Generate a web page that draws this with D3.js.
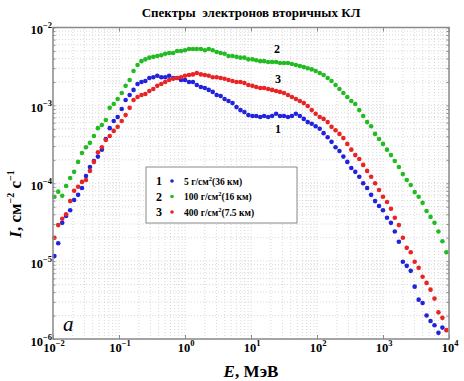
<!DOCTYPE html>
<html>
<head>
<meta charset="utf-8">
<title></title>
<style>
  body { margin: 0; background: #fff; }
  svg text { font-family: "Liberation Serif", "Times New Roman", serif; }
</style>
</head>
<body>
<div id="chart"></div>
<script src="https://d3js.org/d3.v7.min.js"></script>
<script>
// energy bins, MeV
const energy = [
  0.0105, 0.0120, 0.0138, 0.0158, 0.0182, 0.0209, 0.0240, 0.0275, 0.0316, 0.0363,
  0.0417, 0.0479, 0.0550, 0.0631, 0.0724, 0.0832, 0.0955, 0.110, 0.126, 0.145,
  0.166, 0.191, 0.219, 0.251, 0.288, 0.331, 0.380, 0.437, 0.501, 0.575,
  0.661, 0.759, 0.871, 1.00, 1.15, 1.32, 1.51, 1.74, 2.00, 2.29,
  2.63, 3.02, 3.47, 3.98, 4.57, 5.25, 6.03, 6.92, 7.94, 9.12,
  10.5, 12.0, 13.8, 15.8, 18.2, 20.9, 24.0, 27.5, 31.6, 36.3,
  41.7, 47.9, 55.0, 63.1, 72.4, 83.2, 95.5, 110, 126, 145,
  166, 191, 219, 251, 288, 331, 380, 437, 501, 575,
  661, 759, 871, 1000, 1150, 1320, 1510, 1740, 2000, 2290,
  2630, 3020, 3470, 3980, 4570, 5250, 6030, 6920, 7940, 9120
]

// 1: 5 g/cm2 (36 km)
const flux5 = [
  1.16e-5, 1.7e-5, 3.1e-5, 3.8e-5, 4.5e-5, 6.1e-5, 7.1e-5, 8.7e-5, 1.24e-4, 1.62e-4,
  1.93e-4, 2.2e-4, 2.7e-4, 3.7e-4, 5.1e-4, 6.3e-4, 7.1e-4, 9.0e-4, 1.17e-3, 1.36e-3,
  1.58e-3, 1.88e-3, 2.0e-3, 2.06e-3, 2.25e-3, 2.3e-3, 2.4e-3, 2.3e-3, 2.3e-3, 2.4e-3,
  2.25e-3, 2.25e-3, 2.12e-3, 2.12e-3, 2.0e-3, 2.0e-3, 1.83e-3, 1.72e-3, 1.67e-3, 1.58e-3,
  1.49e-3, 1.36e-3, 1.32e-3, 1.21e-3, 1.14e-3, 1.07e-3, 9.5e-4, 8.7e-4, 8.2e-4, 7.5e-4,
  7.3e-4, 7.3e-4, 7.1e-4, 7.3e-4, 7.1e-4, 7.3e-4, 7.8e-4, 7.3e-4, 7.3e-4, 7.1e-4,
  7.3e-4, 7.8e-4, 7.3e-4, 6.7e-4, 6.1e-4, 5.8e-4, 5.4e-4, 5.0e-4, 4.4e-4, 3.9e-4,
  3.4e-4, 2.9e-4, 2.6e-4, 2.2e-4, 1.88e-4, 1.57e-4, 1.40e-4, 1.21e-4, 1.0e-4, 8.7e-5,
  7.1e-5, 5.9e-5, 5.1e-5, 4.5e-5, 3.6e-5, 3.1e-5, 2.4e-5, 1.77e-5, 9.8e-6, 8.7e-6,
  7.5e-6, 4.7e-6, 3.2e-6, 2.9e-6, 2.0e-6, 1.7e-6, 1.5e-6, 1.2e-6, 1.4e-6, null
]

// 2: 100 g/cm2 (16 km)
const flux100 = [
  6.7e-5, 7.8e-5, 6.9e-5, 9.2e-5, 1.17e-4, 1.40e-4, 1.88e-4, 2.45e-4, 2.9e-4, 3.3e-4,
  4.05e-4, 5.1e-4, 5.6e-4, 6.5e-4, 9.3e-4, 1.04e-3, 1.21e-3, 1.44e-3, 1.78e-3, 2.12e-3,
  2.76e-3, 3.3e-3, 3.7e-3, 3.9e-3, 4.1e-3, 4.2e-3, 4.3e-3, 4.4e-3, 4.6e-3, 4.7e-3,
  4.7e-3, 5.0e-3, 5.0e-3, 5.1e-3, 5.3e-3, 5.3e-3, 5.3e-3, 5.3e-3, 5.1e-3, 5.3e-3,
  5.1e-3, 4.85e-3, 4.7e-3, 4.6e-3, 4.3e-3, 4.3e-3, 4.2e-3, 4.1e-3, 4.1e-3, 3.9e-3,
  3.9e-3, 3.8e-3, 3.7e-3, 3.7e-3, 3.6e-3, 3.6e-3, 3.6e-3, 3.5e-3, 3.5e-3, 3.5e-3,
  3.4e-3, 3.3e-3, 3.2e-3, 3.1e-3, 3.0e-3, 2.9e-3, 2.76e-3, 2.6e-3, 2.46e-3, 2.25e-3,
  2.06e-3, 1.83e-3, 1.62e-3, 1.44e-3, 1.28e-3, 1.14e-3, 1.04e-3, 8.7e-4, 7.3e-4, 6.1e-4,
  5.4e-4, 4.3e-4, 3.7e-4, 3.2e-4, 2.7e-4, 2.3e-4, 1.93e-4, 1.62e-4, 1.31e-4, 1.10e-4,
  9.5e-5, 7.7e-5, 6.7e-5, 5.6e-5, 4.4e-5, 3.7e-5, 3.1e-5, 2.4e-5, 1.8e-5, 1.3e-5
]

// 3: 400 g/cm2 (7.5 km)
const flux400 = [
  2.0e-5, 2.9e-5, 3.5e-5, 4.0e-5, 5.9e-5, 8.0e-5, 9.0e-5, 1.04e-4, 1.10e-4, 1.44e-4,
  1.88e-4, 2.5e-4, 2.9e-4, 3.6e-4, 4.05e-4, 4.7e-4, 5.3e-4, 6.3e-4, 7.5e-4, 9.3e-4,
  1.17e-3, 1.28e-3, 1.36e-3, 1.40e-3, 1.53e-3, 1.62e-3, 1.78e-3, 1.88e-3, 2.0e-3, 2.12e-3,
  2.2e-3, 2.25e-3, 2.3e-3, 2.4e-3, 2.46e-3, 2.5e-3, 2.6e-3, 2.5e-3, 2.46e-3, 2.4e-3,
  2.3e-3, 2.3e-3, 2.25e-3, 2.2e-3, 2.12e-3, 2.06e-3, 2.0e-3, 2.0e-3, 1.94e-3, 1.83e-3,
  1.78e-3, 1.72e-3, 1.67e-3, 1.67e-3, 1.62e-3, 1.58e-3, 1.53e-3, 1.49e-3, 1.44e-3, 1.36e-3,
  1.28e-3, 1.21e-3, 1.14e-3, 1.07e-3, 9.8e-4, 8.7e-4, 7.8e-4, 7.1e-4, 6.7e-4, 6.1e-4,
  5.3e-4, 4.8e-4, 4.3e-4, 3.8e-4, 3.2e-4, 2.7e-4, 2.3e-4, 2.05e-4, 1.72e-4, 1.44e-4,
  1.21e-4, 1.0e-4, 8.2e-5, 6.7e-5, 5.75e-5, 4.7e-5, 3.6e-5, 2.9e-5, 2.0e-5, 1.48e-5,
  1.3e-5, 9.8e-6, 8.2e-6, 6.3e-6, 5.25e-6, 4.3e-6, 3.3e-6, 2.2e-6, 1.87e-6, 1.3e-6
]

const seriesNums = ["1", "2", "3"]
const seriesNames = ["5 г/см", "100 г/см", "400 г/см"]
const seriesAlt = ["(36 км)", "(16 км)", "(7.5 км)"]
const xTickExp = [-2, -1, 0, 1, 2, 3, 4]
const yTickExp = [-6, -5, -4, -3, -2]

const W = 464, H = 381
const margin = { top: 27.5, right: 15, bottom: 42, left: 53 }
const colors = ["#2222dd", "#22bb22", "#e82424"]

const svg = d3.select("#chart").append("svg")
    .attr("width", W).attr("height", H)

const x = d3.scaleLog().domain([1e-2, 1e4]).range([margin.left, W - margin.right])
const y = d3.scaleLog().domain([1e-6, 1e-2]).range([H - margin.bottom, margin.top])

// dotted grid on every decade subdivision
const grid = svg.append("g").attr("stroke", "#cfcfcf").attr("stroke-width", 0.8)
    .attr("stroke-dasharray", "1,2")
grid.selectAll(".gx").data(x.ticks()).join("line")
    .attr("x1", d => x(d)).attr("x2", d => x(d))
    .attr("y1", y.range()[0]).attr("y2", y.range()[1])
grid.selectAll(".gy").data(y.ticks()).join("line")
    .attr("y1", d => y(d)).attr("y2", d => y(d))
    .attr("x1", x.range()[0]).attr("x2", x.range()[1])

// points
const fluxes = [flux5, flux100, flux400]
const order = [1, 0, 2]
order.forEach(i => {
    const pts = energy.map((e, k) => [e, fluxes[i][k]]).filter(p => p[1] != null)
    svg.append("g").attr("fill", colors[i])
        .selectAll("circle").data(pts).join("circle")
        .attr("cx", d => x(d[0])).attr("cy", d => y(d[1])).attr("r", 2.3)
})

// frame
svg.append("rect")
    .attr("x", margin.left).attr("y", margin.top)
    .attr("width", W - margin.left - margin.right)
    .attr("height", H - margin.top - margin.bottom)
    .attr("fill", "none").attr("stroke", "#8a8a8a").attr("stroke-width", 1.5)

// inward ticks on all four sides
function styleAxis(g) {
    g.select(".domain").remove()
    g.selectAll(".tick line").attr("stroke", "#8a8a8a")
}
const xMaj = xTickExp.map(p => Math.pow(10, p))
svg.append("g").attr("transform", `translate(0,${H - margin.bottom})`)
    .call(d3.axisBottom(x).tickValues(xMaj).tickSize(-4).tickFormat("")).call(styleAxis)
svg.append("g").attr("transform", `translate(0,${margin.top})`)
    .call(d3.axisTop(x).tickValues(xMaj).tickSize(-4).tickFormat("")).call(styleAxis)
svg.append("g").attr("transform", `translate(${margin.left},0)`)
    .call(d3.axisLeft(y).tickValues(y.ticks()).tickSize(-2.5).tickFormat("")).call(styleAxis)
svg.append("g").attr("transform", `translate(${W - margin.right},0)`)
    .call(d3.axisRight(y).tickValues(y.ticks()).tickSize(-2.5).tickFormat("")).call(styleAxis)

// tick labels 10^n
function powLabel(sel, p) {
    sel.append("tspan").text("10")
    sel.append("tspan").attr("dy", -6).attr("font-size", 8.5).text(p < 0 ? "\u2212" + (-p) : p)
}
xTickExp.forEach(p => {
    svg.append("text").attr("x", x(Math.pow(10, p)) + 1).attr("y", 352)
        .attr("text-anchor", "middle").attr("font-size", 12.5).attr("font-weight", "bold")
        .call(powLabel, p)
})
yTickExp.forEach(p => {
    svg.append("text").attr("x", margin.left - 1).attr("y", y(Math.pow(10, p)) + 6.5)
        .attr("text-anchor", "end").attr("font-size", 12.5).attr("font-weight", "bold")
        .call(powLabel, p)
})

// title
svg.append("text").attr("x", 251).attr("y", 17).attr("text-anchor", "middle")
    .attr("font-size", 13).attr("font-weight", "bold")
    .attr("xml:space", "preserve")
    .text("Спектры  электронов вторичных КЛ")

// axis titles
const xt = svg.append("text").attr("x", 251).attr("y", 377).attr("text-anchor", "middle")
    .attr("font-size", 17).attr("font-weight", "bold")
xt.append("tspan").attr("font-style", "italic").text("E")
xt.append("tspan").text(", МэВ")

const yt = svg.append("text").attr("transform", "translate(21,204) rotate(-90)")
    .attr("text-anchor", "middle").attr("font-size", 17).attr("font-weight", "bold")
yt.append("tspan").attr("font-style", "italic").text("I")
yt.append("tspan").text(", см")
yt.append("tspan").attr("dy", -7).attr("font-size", 10).text("\u22122")
yt.append("tspan").attr("dy", 7).text(" с")
yt.append("tspan").attr("dy", -7).attr("font-size", 10).text("\u22121")

// panel letter
svg.append("text").attr("x", 63).attr("y", 331).attr("font-size", 21)
    .attr("font-style", "italic").text("а")

// curve numbers
const curveLab = [[278, 133], [277, 53], [278, 83]]
seriesNums.forEach((n, i) => {
    svg.append("text").attr("x", curveLab[i][0]).attr("y", curveLab[i][1])
        .attr("text-anchor", "middle").attr("font-size", 12).attr("font-weight", "bold").text(n)
})

// legend
const lg = svg.append("g").attr("transform", "translate(146,167)")
lg.append("rect").attr("width", 151).attr("height", 56)
    .attr("fill", "#fff").attr("stroke", "#8a8a8a").attr("stroke-width", 1)
seriesNums.forEach((n, i) => {
    const yy = 18 + i * 15.5
    lg.append("text").attr("x", 13).attr("y", yy).attr("font-size", 12)
        .attr("font-weight", "bold").attr("text-anchor", "middle").text(n)
    lg.append("circle").attr("cx", 26).attr("cy", yy - 4).attr("r", 1.8).attr("fill", colors[i])
    const t = lg.append("text").attr("x", 38).attr("y", yy - 0.5).attr("font-size", 9.5)
        .attr("font-weight", "bold")
    t.append("tspan").text(seriesNames[i])
    t.append("tspan").attr("dy", -4).attr("font-size", 6.5).text("2")
    t.append("tspan").attr("dy", 4).text(seriesAlt[i])
})
</script>
</body>
</html>
